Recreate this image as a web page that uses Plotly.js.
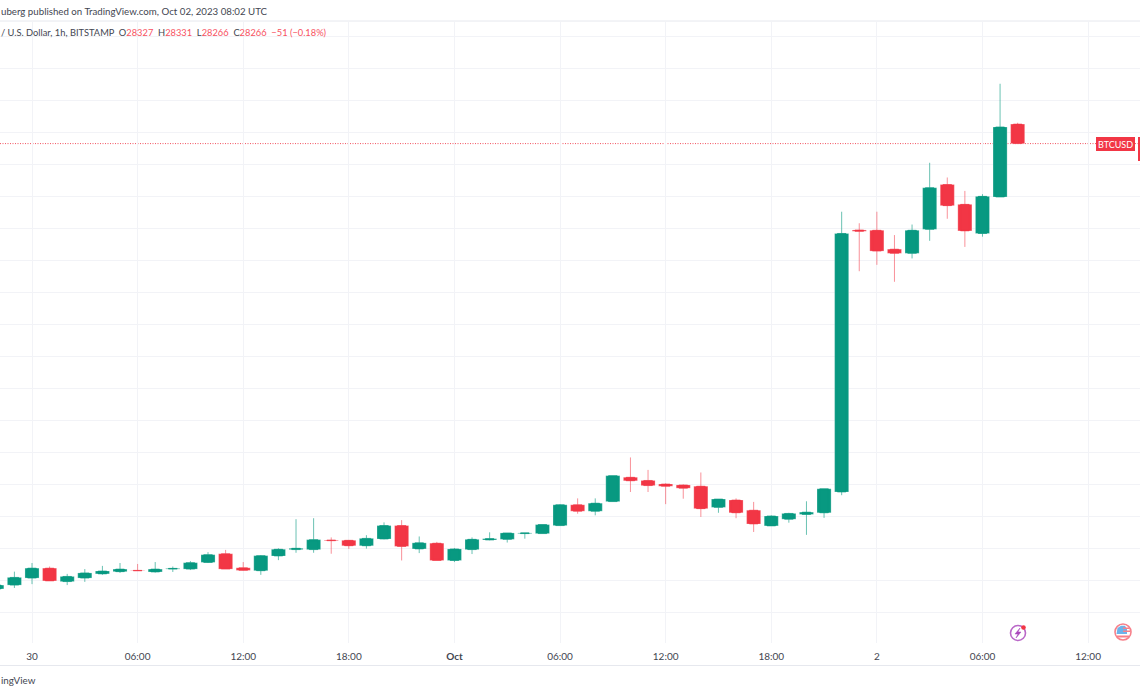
<!DOCTYPE html>
<html><head><meta charset="utf-8">
<script src="https://cdn.plot.ly/plotly-3.0.1.min.js"></script>
<style>html,body{margin:0;padding:0;background:#fff;overflow:hidden}</style></head>
<body><div id="chart" style="width:1140px;height:694px"></div>
<script>
var times = ["2023-09-29 22:00","2023-09-29 23:00",
"2023-09-30 00:00","2023-09-30 01:00","2023-09-30 02:00","2023-09-30 03:00","2023-09-30 04:00","2023-09-30 05:00","2023-09-30 06:00","2023-09-30 07:00","2023-09-30 08:00","2023-09-30 09:00","2023-09-30 10:00","2023-09-30 11:00","2023-09-30 12:00","2023-09-30 13:00","2023-09-30 14:00","2023-09-30 15:00","2023-09-30 16:00","2023-09-30 17:00","2023-09-30 18:00","2023-09-30 19:00","2023-09-30 20:00","2023-09-30 21:00","2023-09-30 22:00","2023-09-30 23:00",
"2023-10-01 00:00","2023-10-01 01:00","2023-10-01 02:00","2023-10-01 03:00","2023-10-01 04:00","2023-10-01 05:00","2023-10-01 06:00","2023-10-01 07:00","2023-10-01 08:00","2023-10-01 09:00","2023-10-01 10:00","2023-10-01 11:00","2023-10-01 12:00","2023-10-01 13:00","2023-10-01 14:00","2023-10-01 15:00","2023-10-01 16:00","2023-10-01 17:00","2023-10-01 18:00","2023-10-01 19:00","2023-10-01 20:00","2023-10-01 21:00","2023-10-01 22:00","2023-10-01 23:00",
"2023-10-02 00:00","2023-10-02 01:00","2023-10-02 02:00","2023-10-02 03:00","2023-10-02 04:00","2023-10-02 05:00","2023-10-02 06:00","2023-10-02 07:00","2023-10-02 08:00"];
var open = [26874,26886,26908,26939,26897,26908,26921,26928,26932,26927,26936,26936,26957,26984,26940,26931,26977,26997,26997,27027,27026,27009,27030,27072,26999,27017,26963,26997,27027,27029,27047,27047,27072,27137,27117,27147,27223,27213,27202,27199,27195,27129,27152,27120,27071,27092,27107,27112,27177,27996,27995,27936,27923,27998,28138,28076,27985,28099,28327];
var high = [26892,26928,26955,26944,26921,26936,26946,26955,26952,26958,26944,26961,26989,26996,26958,26980,27001,27092,27095,27035,27027,27042,27082,27089,27038,27021,27002,27035,27051,27049,27049,27075,27139,27157,27157,27228,27285,27246,27204,27201,27238,27155,27157,27146,27104,27112,27148,27187,28053,28017,28053,27980,28013,28206,28160,28118,28108,28453,28331];
var low = [26867,26877,26889,26899,26886,26896,26918,26924,26930,26925,26927,26933,26955,26936,26931,26918,26964,26987,26987,26984,26999,27000,27029,26963,26986,26963,26958,26983,27026,27019,27031,27047,27072,27109,27104,27147,27177,27177,27139,27156,27099,27112,27095,27052,27071,27081,27043,27096,27167,27867,27887,27834,27907,27962,28031,27943,27975,28099,28266];
var close = [26886,26910,26939,26899,26913,26924,26930,26936,26931,26936,26938,26956,26981,26936,26932,26978,26998,27001,27028,27025,27009,27032,27072,27007,27018,26963,26999,27029,27031,27049,27049,27075,27137,27117,27142,27228,27212,27197,27195,27189,27125,27155,27112,27077,27102,27110,27114,27187,27985,27992,27930,27923,27995,28128,28072,27993,28101,28318,28266];
var tickTimes = ["2023-09-30 00:00","2023-09-30 06:00","2023-09-30 12:00","2023-09-30 18:00","2023-10-01 00:00","2023-10-01 06:00","2023-10-01 12:00","2023-10-01 18:00","2023-10-02 00:00","2023-10-02 06:00","2023-10-02 12:00"];
var tickLabels = ["30","06:00","12:00","18:00","<b>Oct</b>","06:00","12:00","18:00","2","06:00","12:00"];
var lastPrice = 28266;
var GREEN="#089981", RED="#f23645", FONT='Lato,"Noto Sans",sans-serif';
var W=1140, T=22, B=643;
function px(x){return x/W;}
function py(y){return (B-y)/(B-T);}
function P(x,y){return px(x).toFixed(5)+" "+py(y).toFixed(5);}
function rect(x0,y0,x1,y1,fill){return {type:"rect",xref:"paper",yref:"paper",x0:px(x0),x1:px(x1),y0:py(y0),y1:py(y1),fillcolor:fill,line:{width:0},layer:"above"};}
function circ(cx,cy,r,fill,stroke,w){return {type:"circle",xref:"paper",yref:"paper",x0:px(cx-r),x1:px(cx+r),y0:py(cy-r),y1:py(cy+r),fillcolor:fill,line:{color:stroke,width:w},layer:"above"};}
function path(d,fill,stroke,w){return {type:"path",xref:"paper",yref:"paper",path:d,fillcolor:fill,line:{color:stroke,width:w},layer:"above"};}
function hline(y,c){return {type:"line",xref:"paper",yref:"paper",x0:0,x1:1,y0:py(y),y1:py(y),line:{color:c,width:1},layer:"above"};}
function txt(x,y,t,size,color,anchor){return {xref:"paper",yref:"paper",x:px(x),y:py(y),text:t,showarrow:false,xanchor:anchor||"left",yanchor:"middle",font:{family:FONT,size:size,color:color},align:"left",borderpad:0};}
var r=function(t){return '<span style="color:#f7525f">'+t+'</span>';};
var legend="/ U.S. Dollar, 1h, BITSTAMP  O"+r("28327")+"  H"+r("28331")+"  L"+r("28266")+"  C"+r("28266")+"  "+r("−51 (−0.18%)");
var shapes=[
 {type:"line",xref:"paper",yref:"y",x0:0,x1:1,y0:lastPrice,y1:lastPrice,line:{color:"rgba(242,54,69,0.85)",width:1,dash:"1px,1.5px"},layer:"below"},
 hline(21,"#e6e8ee"),hline(665.5,"#e6e8ee"),
 rect(1096,137,1135,151,RED),rect(1138,137,1140,161,RED),
 circ(1018,633,7.5,"rgba(0,0,0,0)","#ba68c8",1.6),
 path("M"+P(1020,628)+" L"+P(1015,634)+" L"+P(1018,634)+" L"+P(1016,638)+" L"+P(1021,632)+" L"+P(1018,632)+" Z","#ab47bc","#ab47bc",0.5),
 circ(1023.5,627.5,2.3,RED,RED,0),
 circ(1123,632,8,"#fff","#f7808a",1.6),
 path("M"+P(1116.5,634)+" L"+P(1117.5,628)+" L"+P(1121,625.8)+" L"+P(1125,625.8)+" L"+P(1127,629)+" L"+P(1127,634)+" Z","#6db3ea","#6db3ea",0),
 rect(1123,627.5,1129.5,629,"#f7808a"),rect(1123,630.5,1130,632,"#f7808a"),rect(1117,635.5,1129,637.5,"#f7808a")
];
var annotations=[
 txt(0,11.5,"uberg published on TradingView.com, Oct 02, 2023 08:02 UTC",9.7,"#434651"),
 txt(0,33,legend,9.3,"#434651"),
 txt(0,680,"ingView",9.8,"#434651"),
 txt(1115.5,144,"BTCUSD",9,"#ffffff","center")
];
var bodyBase=[],bodySize=[],bodyColor=[];
open.forEach(function(o,i){bodyBase.push(Math.min(o,close[i]));bodySize.push(Math.abs(close[i]-o));bodyColor.push(close[i]>=o?GREEN:RED);});
var bodies={type:"bar",x:times,y:bodySize,base:bodyBase,width:2880000,marker:{color:bodyColor,line:{color:"rgba(255,255,255,0.25)",width:1}},hoverinfo:"skip"};
var trace={type:"candlestick",x:times,open:open,high:high,low:low,close:close,
 increasing:{line:{color:"rgba(8,153,129,0.6)",width:1},fillcolor:GREEN},
 decreasing:{line:{color:"rgba(242,54,69,0.55)",width:1},fillcolor:RED},
 whiskerwidth:0,hoverinfo:"skip"};
var layout={width:W,height:694,margin:{l:0,r:0,t:T,b:694-B,pad:0},paper_bgcolor:"#fff",plot_bgcolor:"#fff",showlegend:false,
 xaxis:{type:"date",range:["2023-09-29 22:10:55","2023-10-02 14:57:00"],rangeslider:{visible:false},tickmode:"array",tickvals:tickTimes,ticktext:tickLabels,showgrid:true,gridcolor:"#f2f3f7",gridwidth:1,zeroline:false,showline:false,ticks:"outside",ticklen:4,tickcolor:"rgba(0,0,0,0)",tickangle:0,tickfont:{family:FONT,size:10,color:"#434651"}},
 yaxis:{range:[26705,28646],tick0:26700,dtick:100,showgrid:true,gridcolor:"#f2f3f7",gridwidth:1,zeroline:false,showticklabels:false,ticks:"",showline:false},
 shapes:shapes,annotations:annotations};
Plotly.newPlot("chart",[bodies,trace],layout,{displayModeBar:false,staticPlot:true});
</script></body></html>
